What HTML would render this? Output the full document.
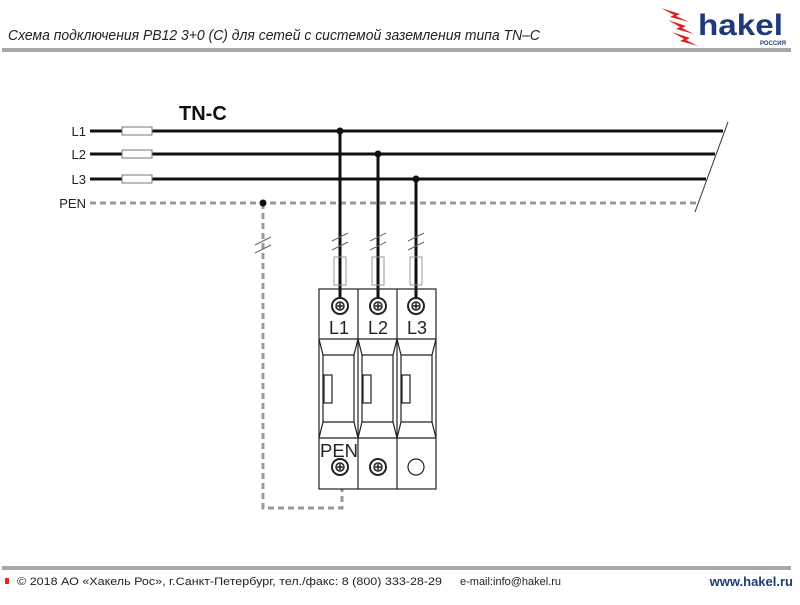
<!DOCTYPE html>
<html><head><meta charset="utf-8"><style>
body{margin:0;width:800px;height:600px;background:#fff;overflow:hidden;font-family:"Liberation Sans",sans-serif}
</style></head><body>
<svg width="800" height="600" viewBox="0 0 800 600" xmlns="http://www.w3.org/2000/svg" font-family="Liberation Sans, sans-serif">
<text x="8" y="40" font-size="15" font-style="italic" fill="#222" textLength="532" lengthAdjust="spacingAndGlyphs">Схема подключения PB12 3+0 (C) для сетей с системой заземления типа TN–C</text>
<rect x="2" y="48" width="789" height="4" fill="#a8a8a8"/>
<g fill="#e02020">
<polygon points="661,8 680,14 676,16 689,22 670,17 674,15"/>
<polygon points="668,20 686,26 682,28 694,34 676,29 680,27"/>
<polygon points="672,32 690,38 686,40 698,46 680,41 684,39"/>
</g>
<text x="698" y="35" font-size="30" font-weight="bold" fill="#1e3a7a" textLength="85" lengthAdjust="spacingAndGlyphs">hakel</text>
<text x="760" y="45" font-size="6" font-weight="bold" fill="#1e3a7a">РОССИЯ</text>
<text x="179" y="120" font-size="20" font-weight="bold" fill="#111">TN-C</text>
<g font-size="13" fill="#222" text-anchor="end">
<text x="86" y="136">L1</text><text x="86" y="159">L2</text><text x="86" y="184">L3</text><text x="86" y="208">PEN</text>
</g>
<g stroke="#111" stroke-width="3">
<line x1="90" y1="131" x2="723" y2="131"/>
<line x1="90" y1="154" x2="715" y2="154"/>
<line x1="90" y1="179" x2="706" y2="179"/>
</g>
<line x1="90" y1="203" x2="698" y2="203" stroke="#999" stroke-width="3" stroke-dasharray="6,4"/>
<line x1="728" y1="122" x2="695" y2="212" stroke="#333" stroke-width="1"/>
<g fill="#fff" stroke="#777" stroke-width="1">
<rect x="122" y="127" width="30" height="8"/><rect x="122" y="150" width="30" height="8"/><rect x="122" y="175" width="30" height="8"/>
</g>
<path d="M263,203 V508 H342 V489" fill="none" stroke="#999" stroke-width="3" stroke-dasharray="6,4"/>
<g fill="#111"><circle cx="263" cy="203" r="3.5"/><circle cx="340" cy="131" r="3.5"/><circle cx="378" cy="154" r="3.5"/><circle cx="416" cy="179" r="3.5"/></g>
<g stroke="#111" stroke-width="3">
<line x1="340" y1="131" x2="340" y2="306"/><line x1="378" y1="154" x2="378" y2="306"/><line x1="416" y1="179" x2="416" y2="306"/>
</g>
<g stroke="#666" stroke-width="1">
<line x1="255" y1="245" x2="271" y2="237"/><line x1="255" y1="253" x2="271" y2="245"/>
<line x1="332" y1="241" x2="348" y2="233"/><line x1="332" y1="250" x2="348" y2="242"/>
<line x1="370" y1="241" x2="386" y2="233"/><line x1="370" y1="250" x2="386" y2="242"/>
<line x1="408" y1="241" x2="424" y2="233"/><line x1="408" y1="250" x2="424" y2="242"/>
</g>
<g fill="none" stroke="#999" stroke-width="1">
<rect x="334" y="257" width="12" height="28"/><rect x="372" y="257" width="12" height="28"/><rect x="410" y="257" width="12" height="28"/>
</g>
<g fill="none" stroke="#222" stroke-width="1.2">
<rect x="319" y="289" width="117" height="200"/>
<line x1="358" y1="289" x2="358" y2="489"/><line x1="397" y1="289" x2="397" y2="489"/>
<line x1="319" y1="339" x2="436" y2="339"/><line x1="319" y1="438" x2="436" y2="438"/>
<path d="M319,339 L323,355 V422 L319,438"/><path d="M358,339 L354,355 V422 L358,438"/><path d="M358,339 L362,355 V422 L358,438"/>
<path d="M397,339 L393,355 V422 L397,438"/><path d="M397,339 L401,355 V422 L397,438"/><path d="M436,339 L432,355 V422 L436,438"/>
<line x1="323" y1="355" x2="354" y2="355"/><line x1="323" y1="422" x2="354" y2="422"/>
<line x1="362" y1="355" x2="393" y2="355"/><line x1="362" y1="422" x2="393" y2="422"/>
<line x1="401" y1="355" x2="432" y2="355"/><line x1="401" y1="422" x2="432" y2="422"/>
<rect x="324" y="375" width="8" height="28"/><rect x="363" y="375" width="8" height="28"/><rect x="402" y="375" width="8" height="28"/>
<circle cx="416" cy="467" r="8"/>
</g>
<g>
<g transform="translate(340,306)"><circle r="8" fill="#fff" stroke="#222" stroke-width="2"/><circle r="4" fill="none" stroke="#222" stroke-width="1.5"/><path d="M-3,0H3M0,-3V3" stroke="#222" stroke-width="1.5"/></g>
<g transform="translate(378,306)"><circle r="8" fill="#fff" stroke="#222" stroke-width="2"/><circle r="4" fill="none" stroke="#222" stroke-width="1.5"/><path d="M-3,0H3M0,-3V3" stroke="#222" stroke-width="1.5"/></g>
<g transform="translate(416,306)"><circle r="8" fill="#fff" stroke="#222" stroke-width="2"/><circle r="4" fill="none" stroke="#222" stroke-width="1.5"/><path d="M-3,0H3M0,-3V3" stroke="#222" stroke-width="1.5"/></g>
<g transform="translate(340,467)"><circle r="8" fill="#fff" stroke="#222" stroke-width="2"/><circle r="4" fill="none" stroke="#222" stroke-width="1.5"/><path d="M-3,0H3M0,-3V3" stroke="#222" stroke-width="1.5"/></g>
<g transform="translate(378,467)"><circle r="8" fill="#fff" stroke="#222" stroke-width="2"/><circle r="4" fill="none" stroke="#222" stroke-width="1.5"/><path d="M-3,0H3M0,-3V3" stroke="#222" stroke-width="1.5"/></g>
</g>
<g font-size="18" fill="#222" text-anchor="middle">
<text x="339" y="334">L1</text><text x="378" y="334">L2</text><text x="417" y="334">L3</text>
<text x="339" y="457" textLength="38" lengthAdjust="spacingAndGlyphs">PEN</text>
</g>
<rect x="2" y="566" width="789" height="4" fill="#a8a8a8"/>
<rect x="5" y="578" width="4" height="6" fill="#e03010"/>
<text x="17" y="585" font-size="11" fill="#222" textLength="425" lengthAdjust="spacingAndGlyphs">© 2018 АО «Хакель Рос», г.Санкт-Петербург, тел./факс: 8 (800) 333-28-29</text>
<text x="460" y="585" font-size="11" fill="#222">e-mail:info@hakel.ru</text>
<text x="793" y="586" font-size="13" font-weight="bold" fill="#1e3a7a" text-anchor="end">www.hakel.ru</text>
</svg>
</body></html>
